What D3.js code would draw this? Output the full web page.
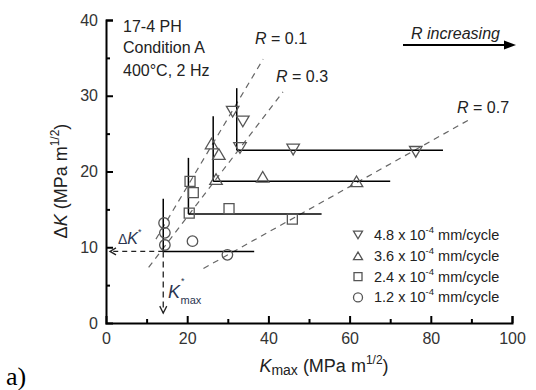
<!DOCTYPE html>
<html><head><meta charset="utf-8">
<script src="https://cdn.jsdelivr.net/npm/d3@7/dist/d3.min.js"></script>
<style>
body{margin:0;background:#fff;}
svg{display:block;font-family:"Liberation Sans",Arial,sans-serif;}
</style></head>
<body><svg id="c" width="536" height="390"></svg>
<script>
// ---- data ----
const legendRates = ["4.8", "3.6", "2.4", "1.2"];
const legendShapes = ["down", "up", "square", "circle"];
const kmax48 = [31.2, 33.7, 33.0, 46.1, 76.3];
const dk48   = [27.9, 26.6, 23.1, 22.9, 22.6];
const kmax36 = [26.0, 27.8, 27.1, 38.6, 61.7];
const dk36   = [23.7, 22.3, 19.0, 19.3, 18.7];
const kmax24 = [20.7, 21.5, 20.5, 30.3, 45.9];
const dk24   = [18.7, 17.2, 14.5, 15.1, 13.7];
const kmax12 = [14.3, 14.5, 14.5, 21.3, 29.9];
const dk12   = [13.2, 11.9, 10.3, 10.8, 9.0];
// threshold "L" lines per series: corner (Kmax*, dK*), vertical top, horizontal end
const cornerK   = [32.2, 26.4, 20.3, 14.1];
const cornerDK  = [22.8, 18.7, 14.4, 9.45];
const vertTopDK = [31.0, 27.3, 21.8, 16.4];
const horizEndK = [83.0, 70.0, 53.1, 36.5];
// constant-R lines: dK = (1-R) Kmax
const rValues = [0.1, 0.3, 0.7];
const rStartK = [12.3, 10.5, 24.0];
const rEndK   = [38.7, 43.6, 90.0];
const xTicks = [0, 20, 40, 60, 80, 100];
const xMinor = [10, 30, 50, 70, 90];
const yTicks = [0, 10, 20, 30, 40];
const yMinor = [5, 15, 25, 35];

const svg = d3.select("#c");
const x = d3.scaleLinear().domain([0, 100]).range([106, 512]);
const y = d3.scaleLinear().domain([0, 40]).range([323, 20]);
const txt = "#222";
const mk = "#555";

// axes
const xAxis = d3.axisBottom(x).tickValues(xTicks).tickSize(-7).tickPadding(10).tickFormat(d3.format("d"));
const gx = svg.append("g").attr("transform", `translate(0,${y(0)})`).call(xAxis);
const xAxisMinor = d3.axisBottom(x).tickValues(xMinor).tickSize(-4).tickFormat("");
const gxm = svg.append("g").attr("transform", `translate(0,${y(0)})`).call(xAxisMinor);
const yAxis = d3.axisLeft(y).tickValues(yTicks).tickSize(-7).tickPadding(8).tickFormat(d3.format("d"));
const gy = svg.append("g").attr("transform", `translate(${x(0)},0)`).call(yAxis);
const yAxisMinor = d3.axisLeft(y).tickValues(yMinor).tickSize(-4).tickFormat("");
const gym = svg.append("g").attr("transform", `translate(${x(0)},0)`).call(yAxisMinor);
[gx, gxm, gy, gym].forEach(g => {
  g.select(".domain").attr("stroke", "#000").attr("stroke-width", 2);
  g.selectAll(".tick line").attr("stroke", "#000").attr("stroke-width", 2);
  g.selectAll(".tick text").attr("font-size", 16).attr("fill", "#333").attr("font-family", "Liberation Sans, Arial, sans-serif");
});
gxm.select(".domain").remove(); gym.select(".domain").remove();
gx.selectAll(".tick").filter(d => d === 0).select("line").remove();
gy.selectAll(".tick").filter(d => d === 0).select("line").remove();

// constant-R dashed lines
const rg = svg.append("g");
rValues.forEach((r, i) => {
  rg.append("line")
    .attr("x1", x(rStartK[i])).attr("y1", y((1 - r) * rStartK[i]))
    .attr("x2", x(rEndK[i])).attr("y2", y((1 - r) * rEndK[i]))
    .attr("stroke", "#666").attr("stroke-width", 1.2).attr("stroke-dasharray", "6,5");
});

// threshold L-lines
const lg = svg.append("g");
cornerK.forEach((k, i) => {
  lg.append("line").attr("x1", x(k)).attr("x2", x(k)).attr("y1", y(cornerDK[i])).attr("y2", y(vertTopDK[i]))
    .attr("stroke", "#000").attr("stroke-width", 1.5);
  lg.append("line").attr("x1", x(k)).attr("x2", x(horizEndK[i])).attr("y1", y(cornerDK[i])).attr("y2", y(cornerDK[i]))
    .attr("stroke", "#000").attr("stroke-width", 1.5);
});

// marker shapes
function shapePath(kind, s) {
  const h = s * 0.85;
  if (kind === "down") return `M${-s / 2},${-h / 2}L${s / 2},${-h / 2}L0,${h / 2}Z`;
  if (kind === "up") return `M${-s / 2},${h / 2}L${s / 2},${h / 2}L0,${-h / 2}Z`;
  return `M${-s / 2},${-s / 2}h${s}v${s}h${-s}Z`;
}
function drawMarker(g, kind, cx, cy, s, sw) {
  if (kind === "circle") {
    g.append("circle").attr("cx", cx).attr("cy", cy).attr("r", s / 2)
      .attr("fill", "none").attr("stroke", mk).attr("stroke-width", sw);
  } else {
    g.append("path").attr("d", shapePath(kind, s)).attr("transform", `translate(${cx},${cy})`)
      .attr("fill", "none").attr("stroke", mk).attr("stroke-width", sw);
  }
}
const seriesK = [kmax48, kmax36, kmax24, kmax12];
const seriesDK = [dk48, dk36, dk24, dk12];
const markerSize = [12.5, 12.5, 10, 10.5];
const pg = svg.append("g");
seriesK.forEach((ks, si) => {
  ks.forEach((k, j) => drawMarker(pg, legendShapes[si], x(k), y(seriesDK[si][j]), markerSize[si], 1.3));
});

// dK* and Kmax* dashed arrows
const ag = svg.append("g").attr("stroke", "#222").attr("stroke-width", 1.3).attr("fill", "none");
const c0x = x(cornerK[3]), c0y = y(cornerDK[3]);
ag.append("line").attr("x1", c0x).attr("y1", c0y).attr("x2", x(0) + 4).attr("y2", c0y).attr("stroke-dasharray", "5,4");
ag.append("path").attr("d", `M${x(0) + 10},${c0y - 3.5}L${x(0) + 4},${c0y}L${x(0) + 10},${c0y + 3.5}`);
const yArrow = y(1.3);
ag.append("line").attr("x1", c0x).attr("y1", c0y).attr("x2", c0x).attr("y2", yArrow).attr("stroke-dasharray", "6,4");
ag.append("path").attr("d", `M${c0x - 3.5},${yArrow - 7}L${c0x},${yArrow}L${c0x + 3.5},${yArrow - 7}`);

// annotations
const ann = svg.append("g").attr("fill", txt).attr("font-size", 16);
const notes = ["17-4 PH", "Condition A", "400°C, 2 Hz"];
[32, 52.5, 76].forEach((b, i) => ann.append("text").attr("x", 123).attr("y", b).text(notes[i]));

// dK* label
const dks = ann.append("text").attr("x", 118).attr("y", 244).attr("fill", "#2b3550");
dks.append("tspan").attr("font-size", 14).text("Δ");
dks.append("tspan").attr("font-style", "italic").attr("font-size", 16).text("K");
dks.append("tspan").attr("font-size", 9).attr("dy", -9).text("*");
const kms = ann.append("text").attr("x", 168).attr("y", 298).attr("fill", "#2b3550");
kms.append("tspan").attr("font-style", "italic").attr("font-size", 18).text("K");
kms.append("tspan").attr("font-size", 9).attr("dx", 1).attr("dy", -14).text("*");
kms.append("tspan").attr("font-size", 11).attr("dx", -4).attr("dy", 20).text("max");

// R labels
const rLabelPos = [[255, 44], [276, 82], [457, 113]];
rValues.forEach((r, i) => {
  const t = ann.append("text").attr("x", rLabelPos[i][0]).attr("y", rLabelPos[i][1]);
  t.append("tspan").attr("font-style", "italic").text("R");
  t.append("tspan").text(" = " + r);
});

// R increasing
ann.append("text").attr("x", 411).attr("y", 39).attr("font-style", "italic").text("R increasing");
svg.append("line").attr("x1", 403).attr("x2", 507).attr("y1", 45).attr("y2", 45).attr("stroke", "#000").attr("stroke-width", 2);
svg.append("path").attr("d", "M516,45L504,40.5L504,49.5Z").attr("fill", "#000");

// legend
const leg = svg.append("g");
legendRates.forEach((rate, i) => {
  const ly = 239 + i * 20.8;
  drawMarker(leg, legendShapes[i], 358, ly - 4, legendShapes[i] === "square" ? 8 : 9, 1.3);
  const t = leg.append("text").attr("x", 374).attr("y", ly + 1).attr("font-size", 14.5).attr("fill", txt);
  t.append("tspan").text(rate + " x 10");
  t.append("tspan").attr("font-size", 9.5).attr("dy", -7).text("-4");
  t.append("tspan").attr("dy", 7).text(" mm/cycle");
});

// axis titles
const xt = svg.append("text").attr("x", 324).attr("y", 372).attr("text-anchor", "middle").attr("font-size", 18).attr("fill", txt);
xt.append("tspan").attr("font-style", "italic").text("K");
xt.append("tspan").attr("font-size", 14).attr("dy", 3).text("max");
xt.append("tspan").attr("dy", -3).text(" (MPa m");
xt.append("tspan").attr("font-size", 12).attr("dy", -8).text("1/2");
xt.append("tspan").attr("dy", 8).text(")");

const yt = svg.append("text").attr("transform", "translate(67,181) rotate(-90)").attr("text-anchor", "middle").attr("font-size", 18).attr("fill", txt);
yt.append("tspan").text("Δ");
yt.append("tspan").attr("font-style", "italic").text("K");
yt.append("tspan").text(" (MPa m");
yt.append("tspan").attr("font-size", 12).attr("dy", -8).text("1/2");
yt.append("tspan").attr("dy", 8).text(")");

svg.append("text").attr("x", 6).attr("y", 385).attr("font-family", "Liberation Serif, Times New Roman, serif").attr("font-size", 26).attr("fill", "#000").text("a)");
</script>
</body></html>
